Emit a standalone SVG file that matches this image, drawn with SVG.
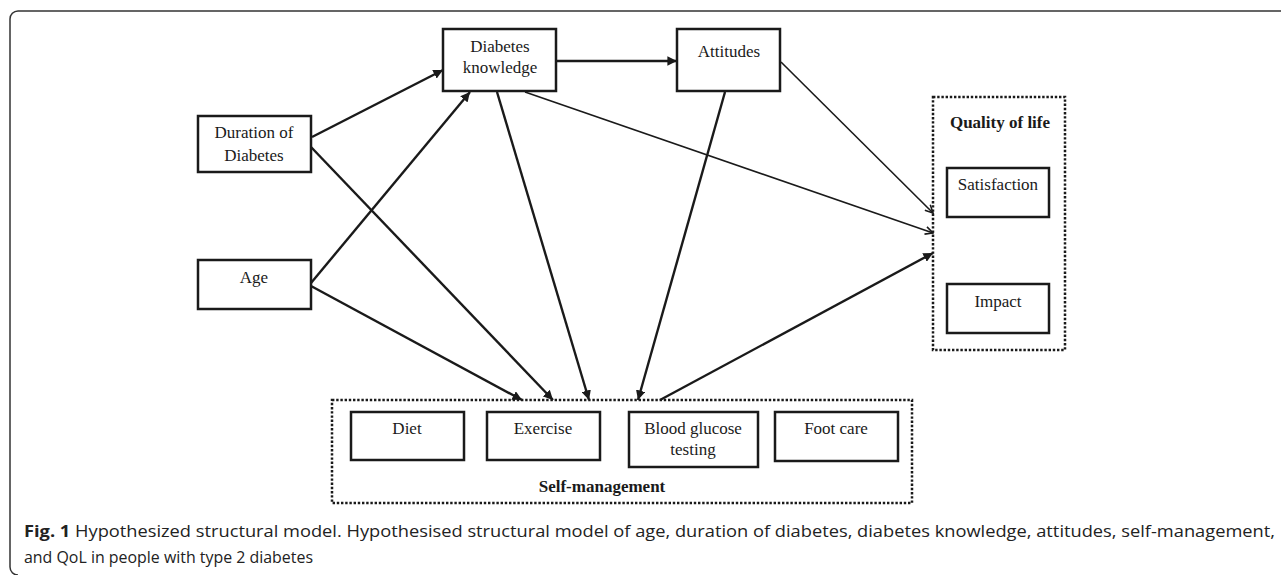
<svg xmlns="http://www.w3.org/2000/svg" width="1281" height="575" viewBox="0 0 1281 575">
<style>
.box{fill:#fff;stroke:#1a1a1a;stroke-width:2.5}
.grp{fill:none;stroke:#1a1a1a;stroke-width:2.5;stroke-dasharray:2.4 1.8}
.t{font-family:"Liberation Serif","Times New Roman",serif;font-size:17px;fill:#1a1a1a;text-anchor:middle}
.b{font-weight:bold}
.e{fill:none;stroke:#1a1a1a;stroke-width:2.4}
.e2{fill:none;stroke:#1a1a1a;stroke-width:1.6}
.cap{font-family:"Open Sans","Noto Sans",sans-serif;font-size:16.5px;fill:#222}
</style>
<defs>
<marker id="ah" viewBox="0 0 10 10" refX="10" refY="5" markerWidth="4" markerHeight="4" orient="auto" markerUnits="strokeWidth">
<path d="M0,0 L10,5 L0,10 z" fill="#1a1a1a"/>
</marker>
<marker id="ah2" viewBox="0 0 10 10" refX="9" refY="5" markerWidth="6" markerHeight="6" orient="auto" markerUnits="strokeWidth">
<path d="M1,1 L9,5 L1,9" fill="none" stroke="#1a1a1a" stroke-width="1.6"/>
</marker>
</defs>
<rect width="1281" height="575" fill="#fff"/>
<path d="M1281 11 H18 A8 8 0 0 0 10 19 V567 A8 8 0 0 0 18 575" fill="none" stroke="#333" stroke-width="1.5"/>

<g id="connectors">
<line class="e" x1="312" y1="137" x2="443" y2="70" marker-end="url(#ah)"/>
<line class="e" x1="311" y1="283" x2="470" y2="92" marker-end="url(#ah)"/>
<line class="e" x1="311" y1="147" x2="553" y2="400" marker-end="url(#ah)"/>
<line class="e" x1="311" y1="286" x2="522" y2="400" marker-end="url(#ah)"/>
<line class="e" x1="497" y1="92" x2="589" y2="400" marker-end="url(#ah)"/>
<line class="e" x1="556" y1="61" x2="677" y2="61" marker-end="url(#ah)"/>
<line class="e2" x1="525" y1="92" x2="933" y2="233" marker-end="url(#ah2)"/>
<line class="e" x1="725" y1="92" x2="638" y2="400" marker-end="url(#ah)"/>
<line class="e2" x1="781" y1="62" x2="933" y2="213" marker-end="url(#ah2)"/>
<line class="e" x1="660" y1="400" x2="933" y2="253" marker-end="url(#ah)"/>
</g>

<g id="duration">
<rect class="box" x="198" y="116" width="113" height="56"/>
<text class="t" x="254" y="138">Duration of</text>
<text class="t" x="254" y="161">Diabetes</text>
</g>
<g id="age">
<rect class="box" x="198" y="260" width="113" height="49"/>
<text class="t" x="254" y="283">Age</text>
</g>
<g id="knowledge">
<rect class="box" x="443" y="29" width="113" height="62"/>
<text class="t" x="500" y="52">Diabetes</text>
<text class="t" x="500" y="73">knowledge</text>
</g>
<g id="attitudes">
<rect class="box" x="677" y="29" width="103" height="62"/>
<text class="t" x="729" y="57">Attitudes</text>
</g>

<g id="qol">
<rect class="grp" x="933" y="97" width="132" height="253"/>
<text class="t b" x="1000" y="128">Quality of life</text>
<g id="satisfaction">
<rect class="box" x="947" y="168" width="102" height="49"/>
<text class="t" x="998" y="190">Satisfaction</text>
</g>
<g id="impact">
<rect class="box" x="947" y="284" width="102" height="49"/>
<text class="t" x="998" y="307">Impact</text>
</g>
</g>

<g id="selfmanagement">
<rect class="grp" x="332" y="400" width="580" height="103"/>
<text class="t b" x="602" y="492">Self-management</text>
<g id="diet">
<rect class="box" x="351" y="412" width="113" height="48"/>
<text class="t" x="407" y="434">Diet</text>
</g>
<g id="exercise">
<rect class="box" x="487" y="412" width="113" height="48"/>
<text class="t" x="543" y="434">Exercise</text>
</g>
<g id="bloodglucose">
<rect class="box" x="629" y="412" width="129" height="55"/>
<text class="t" x="693" y="434">Blood glucose</text>
<text class="t" x="693" y="455">testing</text>
</g>
<g id="footcare">
<rect class="box" x="775" y="412" width="123" height="49"/>
<text class="t" x="836" y="434">Foot care</text>
</g>
</g>

<g id="caption">
<text class="cap" x="24" y="537" textLength="1251" lengthAdjust="spacingAndGlyphs"><tspan font-weight="bold">Fig. 1</tspan> Hypothesized structural model. Hypothesised structural model of age, duration of diabetes, diabetes knowledge, attitudes, self-management,</text>
<text class="cap" x="24" y="563" textLength="289" lengthAdjust="spacingAndGlyphs">and QoL in people with type 2 diabetes</text>
</g>
</svg>
